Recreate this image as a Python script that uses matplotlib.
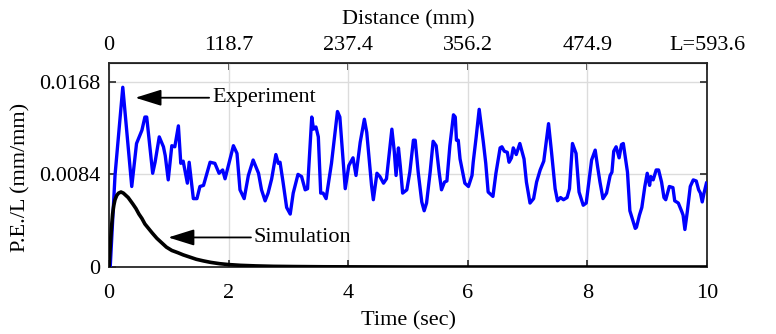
import matplotlib
matplotlib.use("Agg")
import matplotlib.pyplot as plt

plt.rcParams["font.family"] = ["Liberation Serif", "DejaVu Serif"]
plt.rcParams["font.size"] = 16

# Measured plastic elongation (blue) sampled from the strain record
exp_time = [
    0.02, 0.10, 0.23, 0.38, 0.46, 0.55, 0.60, 0.63, 0.73, 0.77,
    0.84, 0.91, 0.94, 0.99, 1.05, 1.10, 1.16, 1.20, 1.24, 1.31,
    1.34, 1.41, 1.47, 1.52, 1.58, 1.69, 1.77, 1.84, 1.90, 1.94,
    2.00, 2.08, 2.14, 2.19, 2.26, 2.33, 2.41, 2.50, 2.55, 2.61,
    2.66, 2.72, 2.79, 2.83, 2.86, 2.91, 2.97, 3.03, 3.08, 3.16,
    3.22, 3.28, 3.32, 3.39, 3.42, 3.46, 3.50, 3.54, 3.58, 3.63,
    3.72, 3.82, 3.86, 3.95, 4.01, 4.08, 4.13, 4.20, 4.27, 4.31,
    4.39, 4.42, 4.48, 4.53, 4.59, 4.64, 4.73, 4.77, 4.80, 4.84,
    4.87, 4.91, 4.98, 5.03, 5.09, 5.12, 5.17, 5.23, 5.27, 5.31,
    5.37, 5.42, 5.47, 5.52, 5.56, 5.61, 5.65, 5.70, 5.76, 5.79,
    5.81, 5.84, 5.87, 5.95, 6.01, 6.07, 6.09, 6.14, 6.19, 6.26,
    6.30, 6.34, 6.42, 6.47, 6.54, 6.57, 6.61, 6.66, 6.69, 6.73,
    6.76, 6.81, 6.87, 6.94, 6.98, 7.04, 7.10, 7.15, 7.21, 7.27,
    7.35, 7.40, 7.46, 7.50, 7.55, 7.60, 7.66, 7.70, 7.75, 7.81,
    7.86, 7.93, 7.98, 8.07, 8.13, 8.17, 8.21, 8.26, 8.32, 8.38,
    8.41, 8.44, 8.48, 8.53, 8.57, 8.60, 8.67, 8.71, 8.80, 8.82,
    8.87, 8.91, 8.96, 9.00, 9.04, 9.06, 9.10, 9.15, 9.19, 9.24,
    9.28, 9.31, 9.37, 9.43, 9.46, 9.52, 9.58, 9.60, 9.63, 9.67,
    9.72, 9.77, 9.82, 9.86, 9.89, 9.92, 9.95, 9.99,
]
exp_pe = [
    0.0000, 0.0083, 0.0163, 0.0073, 0.0112, 0.0124, 0.0136, 0.0136, 0.0085, 0.0095,
    0.0118, 0.0109, 0.0101, 0.0079, 0.0110, 0.0109, 0.0128, 0.0094, 0.0096, 0.0076,
    0.0095, 0.0062, 0.0062, 0.0073, 0.0074, 0.0095, 0.0094, 0.0085, 0.0088, 0.0080,
    0.0093, 0.0110, 0.0103, 0.0070, 0.0062, 0.0083, 0.0097, 0.0085, 0.0070, 0.0060,
    0.0067, 0.0080, 0.0102, 0.0094, 0.0095, 0.0077, 0.0054, 0.0048, 0.0067, 0.0084,
    0.0082, 0.0070, 0.0071, 0.0136, 0.0125, 0.0127, 0.0118, 0.0067, 0.0067, 0.0062,
    0.0094, 0.0141, 0.0136, 0.0071, 0.0092, 0.0099, 0.0083, 0.0113, 0.0134, 0.0122,
    0.0074, 0.0061, 0.0085, 0.0082, 0.0076, 0.0080, 0.0125, 0.0105, 0.0083, 0.0108,
    0.0092, 0.0067, 0.0070, 0.0086, 0.0115, 0.0115, 0.0086, 0.0059, 0.0051, 0.0058,
    0.0086, 0.0114, 0.0110, 0.0086, 0.0070, 0.0077, 0.0078, 0.0110, 0.0138, 0.0136,
    0.0115, 0.0115, 0.0098, 0.0076, 0.0073, 0.0083, 0.0095, 0.0118, 0.0143, 0.0113,
    0.0094, 0.0068, 0.0064, 0.0085, 0.0108, 0.0109, 0.0105, 0.0104, 0.0095, 0.0099,
    0.0108, 0.0102, 0.0112, 0.0098, 0.0077, 0.0058, 0.0062, 0.0077, 0.0088, 0.0096,
    0.0130, 0.0104, 0.0071, 0.0060, 0.0063, 0.0061, 0.0063, 0.0071, 0.0112, 0.0103,
    0.0068, 0.0056, 0.0058, 0.0097, 0.0106, 0.0091, 0.0077, 0.0062, 0.0067, 0.0083,
    0.0086, 0.0105, 0.0109, 0.0099, 0.0111, 0.0112, 0.0086, 0.0051, 0.0035, 0.0036,
    0.0047, 0.0054, 0.0073, 0.0085, 0.0074, 0.0082, 0.0079, 0.0088, 0.0088, 0.0077,
    0.0063, 0.0061, 0.0073, 0.0072, 0.0060, 0.0058, 0.0050, 0.0047, 0.0034, 0.0050,
    0.0073, 0.0079, 0.0078, 0.0070, 0.0067, 0.0059, 0.0067, 0.0076,
]

# Simulated response (black)
sim_time = [
    0.00, 0.02, 0.04, 0.06, 0.08, 0.10, 0.13, 0.16, 0.20, 0.24,
    0.28, 0.32, 0.36, 0.40, 0.45, 0.50, 0.55, 0.60, 0.66, 0.72,
    0.80, 0.88, 0.96, 1.05, 1.15, 1.24, 1.35, 1.46, 1.58, 1.70,
    1.85, 2.00, 2.20, 2.45, 2.75, 3.10, 3.60, 4.20, 5.00, 10.00,
]
sim_pe = [
    0.0000, 0.0018, 0.0035, 0.0048, 0.0056, 0.0061, 0.0065, 0.0067, 0.0068, 0.0067,
    0.0065, 0.0063, 0.0060, 0.0057, 0.0053, 0.0048, 0.0044, 0.0039, 0.0035, 0.0031,
    0.0026, 0.0022, 0.0018, 0.0015, 0.0013, 0.0011, 0.0009, 0.0007, 0.00055, 0.00042,
    0.0003, 0.00022, 0.00015, 0.0001, 0.00006, 0.00004, 0.00002, 0.00001, 0.0, 0.0,
]

time_ticks = [0, 2, 4, 6, 8, 10]
distance_labels = ["0", "118.7", "237.4", "356.2", "474.9", "L=593.6"]
pe_ticks = [0, 0.0084, 0.0168]
pe_labels = ["0", "0.0084", "0.0168"]

fig = plt.figure(figsize=(7.76, 3.34), dpi=100)
ax = fig.add_axes([0.1405, 0.2006, 0.7706, 0.6108])

ax.plot(exp_time, exp_pe, color="#0000ff", lw=2.4, zorder=3)
ax.plot(sim_time, sim_pe, color="black", lw=2.6, zorder=3)

ax.set_xlim(0, 10)
ax.set_ylim(0, 0.0185)
ax.set_xticks(time_ticks)
ax.set_yticks(pe_ticks)
ax.set_yticklabels(pe_labels)
ax.grid(True, color="#dcdcdc", lw=1.0)
ax.set_axisbelow(True)
ax.tick_params(direction="in", length=5, width=1.2, right=True, colors="#262626",
               labelcolor="black")
ax.tick_params(axis="x", pad=12)
ax.tick_params(axis="y", pad=6)
for sp in ax.spines.values():
    sp.set_color("#262626")
    sp.set_linewidth(1.3)

ax.set_xlabel("Time (sec)", labelpad=6)
ax.set_ylabel("P.E./L (mm/mm)")
ax.yaxis.set_label_coords(-0.132, 0.44)

top = ax.secondary_xaxis("top")
top.set_xticks(time_ticks)
top.set_xticklabels(distance_labels)
top.tick_params(direction="in", length=5, width=1.2, colors="#262626",
                labelcolor="black", pad=6)
top.set_xlabel("Distance (mm)", labelpad=8)

arrow = dict(arrowstyle="-|>,head_length=0.8,head_width=0.25", color="black",
             lw=1.3, mutation_scale=20, shrinkA=0, shrinkB=0)
ax.annotate("Experiment", xy=(0.44, 0.01535), xytext=(1.72, 0.01535),
            va="center", ha="left", arrowprops=arrow)
ax.annotate("Simulation", xy=(0.99, 0.00268), xytext=(2.42, 0.00268),
            va="center", ha="left", arrowprops=arrow)

fig.savefig("out.png", dpi=100)
